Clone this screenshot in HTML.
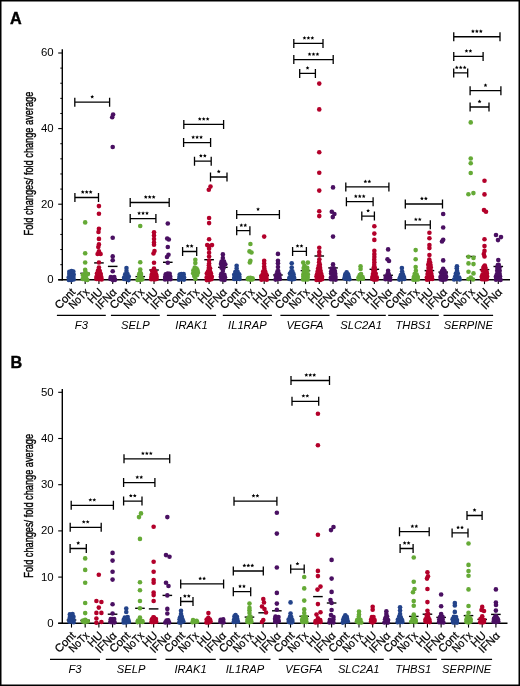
<!DOCTYPE html>
<html><head><meta charset="utf-8"><title>Figure</title>
<style>
html,body{margin:0;padding:0;background:#fff;}
body{width:520px;height:686px;overflow:hidden;}
svg{display:block;font-family:"Liberation Sans",sans-serif;will-change:transform;}
</style></head><body>
<svg width="520" height="686" viewBox="0 0 520 686">
<rect x="0" y="0" width="520" height="686" fill="#fff"/>

<g stroke="#000" fill="none">
<line x1="62.3" y1="49.2" x2="62.3" y2="280.5" stroke-width="1.4"/>
<line x1="58.2" y1="279.8" x2="510" y2="279.8" stroke-width="1.4"/>
<line x1="58.2" y1="279.8" x2="62.3" y2="279.8" stroke-width="1.1"/>
<line x1="58.2" y1="204.2" x2="62.3" y2="204.2" stroke-width="1.1"/>
<line x1="58.2" y1="128.6" x2="62.3" y2="128.6" stroke-width="1.1"/>
<line x1="58.2" y1="53" x2="62.3" y2="53" stroke-width="1.1"/>
<line x1="60.3" y1="264.68" x2="62.3" y2="264.68" stroke-width="1"/>
<line x1="60.3" y1="249.56" x2="62.3" y2="249.56" stroke-width="1"/>
<line x1="60.3" y1="234.44" x2="62.3" y2="234.44" stroke-width="1"/>
<line x1="60.3" y1="219.32" x2="62.3" y2="219.32" stroke-width="1"/>
<line x1="60.3" y1="189.08" x2="62.3" y2="189.08" stroke-width="1"/>
<line x1="60.3" y1="173.96" x2="62.3" y2="173.96" stroke-width="1"/>
<line x1="60.3" y1="158.84" x2="62.3" y2="158.84" stroke-width="1"/>
<line x1="60.3" y1="143.72" x2="62.3" y2="143.72" stroke-width="1"/>
<line x1="60.3" y1="113.48" x2="62.3" y2="113.48" stroke-width="1"/>
<line x1="60.3" y1="98.36" x2="62.3" y2="98.36" stroke-width="1"/>
<line x1="60.3" y1="83.24" x2="62.3" y2="83.24" stroke-width="1"/>
<line x1="60.3" y1="68.12" x2="62.3" y2="68.12" stroke-width="1"/>
<line x1="71.4" y1="279.8" x2="71.4" y2="284.1" stroke-width="1.1"/>
<line x1="85.17" y1="279.8" x2="85.17" y2="284.1" stroke-width="1.1"/>
<line x1="98.94" y1="279.8" x2="98.94" y2="284.1" stroke-width="1.1"/>
<line x1="112.71" y1="279.8" x2="112.71" y2="284.1" stroke-width="1.1"/>
<line x1="126.48" y1="279.8" x2="126.48" y2="284.1" stroke-width="1.1"/>
<line x1="140.25" y1="279.8" x2="140.25" y2="284.1" stroke-width="1.1"/>
<line x1="154.02" y1="279.8" x2="154.02" y2="284.1" stroke-width="1.1"/>
<line x1="167.79" y1="279.8" x2="167.79" y2="284.1" stroke-width="1.1"/>
<line x1="181.56" y1="279.8" x2="181.56" y2="284.1" stroke-width="1.1"/>
<line x1="195.33" y1="279.8" x2="195.33" y2="284.1" stroke-width="1.1"/>
<line x1="209.1" y1="279.8" x2="209.1" y2="284.1" stroke-width="1.1"/>
<line x1="222.87" y1="279.8" x2="222.87" y2="284.1" stroke-width="1.1"/>
<line x1="236.64" y1="279.8" x2="236.64" y2="284.1" stroke-width="1.1"/>
<line x1="250.41" y1="279.8" x2="250.41" y2="284.1" stroke-width="1.1"/>
<line x1="264.18" y1="279.8" x2="264.18" y2="284.1" stroke-width="1.1"/>
<line x1="277.95" y1="279.8" x2="277.95" y2="284.1" stroke-width="1.1"/>
<line x1="291.72" y1="279.8" x2="291.72" y2="284.1" stroke-width="1.1"/>
<line x1="305.49" y1="279.8" x2="305.49" y2="284.1" stroke-width="1.1"/>
<line x1="319.26" y1="279.8" x2="319.26" y2="284.1" stroke-width="1.1"/>
<line x1="333.03" y1="279.8" x2="333.03" y2="284.1" stroke-width="1.1"/>
<line x1="346.8" y1="279.8" x2="346.8" y2="284.1" stroke-width="1.1"/>
<line x1="360.57" y1="279.8" x2="360.57" y2="284.1" stroke-width="1.1"/>
<line x1="374.34" y1="279.8" x2="374.34" y2="284.1" stroke-width="1.1"/>
<line x1="388.11" y1="279.8" x2="388.11" y2="284.1" stroke-width="1.1"/>
<line x1="401.88" y1="279.8" x2="401.88" y2="284.1" stroke-width="1.1"/>
<line x1="415.65" y1="279.8" x2="415.65" y2="284.1" stroke-width="1.1"/>
<line x1="429.42" y1="279.8" x2="429.42" y2="284.1" stroke-width="1.1"/>
<line x1="443.19" y1="279.8" x2="443.19" y2="284.1" stroke-width="1.1"/>
<line x1="456.96" y1="279.8" x2="456.96" y2="284.1" stroke-width="1.1"/>
<line x1="470.73" y1="279.8" x2="470.73" y2="284.1" stroke-width="1.1"/>
<line x1="484.5" y1="279.8" x2="484.5" y2="284.1" stroke-width="1.1"/>
<line x1="498.27" y1="279.8" x2="498.27" y2="284.1" stroke-width="1.1"/>
<line x1="56.9" y1="315.4" x2="105.8" y2="315.4" stroke-width="1.1"/>
<line x1="110.9" y1="315.4" x2="159.8" y2="315.4" stroke-width="1.1"/>
<line x1="166.9" y1="315.4" x2="216.1" y2="315.4" stroke-width="1.1"/>
<line x1="222.8" y1="315.4" x2="271.9" y2="315.4" stroke-width="1.1"/>
<line x1="280.4" y1="315.4" x2="329.5" y2="315.4" stroke-width="1.1"/>
<line x1="336.6" y1="315.4" x2="385.8" y2="315.4" stroke-width="1.1"/>
<line x1="388.2" y1="315.4" x2="438.8" y2="315.4" stroke-width="1.1"/>
<line x1="443.5" y1="315.4" x2="493.1" y2="315.4" stroke-width="1.1"/>
</g>
<g font-size="11.4" text-anchor="end" fill="#000">
<text x="53.6" y="283.2">0</text>
<text x="53.6" y="207.6">20</text>
<text x="53.6" y="132">40</text>
<text x="53.6" y="56.4">60</text>
</g>
<text transform="translate(33.1 163.6) rotate(-90) scale(0.743 1)" font-size="12.4" text-anchor="middle" stroke="#000" stroke-width="0.4">Fold changes/ fold change average</text>
<text x="10" y="23.7" font-size="16.2" font-weight="bold" stroke="#000" stroke-width="0.4">A</text>
<g font-size="11.3" text-anchor="end" stroke="#000" stroke-width="0.22">
<text transform="translate(76.1 292.8) rotate(-45)">Cont</text>
<text transform="translate(89.87 292.8) rotate(-45)" textLength="23.5" lengthAdjust="spacingAndGlyphs">NoTx</text>
<text transform="translate(103.64 292.8) rotate(-45)">HU</text>
<text transform="translate(117.41 292.8) rotate(-45)">IFNα</text>
<text transform="translate(131.18 292.8) rotate(-45)">Cont</text>
<text transform="translate(144.95 292.8) rotate(-45)" textLength="23.5" lengthAdjust="spacingAndGlyphs">NoTx</text>
<text transform="translate(158.72 292.8) rotate(-45)">HU</text>
<text transform="translate(172.49 292.8) rotate(-45)">IFNα</text>
<text transform="translate(186.26 292.8) rotate(-45)">Cont</text>
<text transform="translate(200.03 292.8) rotate(-45)" textLength="23.5" lengthAdjust="spacingAndGlyphs">NoTx</text>
<text transform="translate(213.8 292.8) rotate(-45)">HU</text>
<text transform="translate(227.57 292.8) rotate(-45)">IFNα</text>
<text transform="translate(241.34 292.8) rotate(-45)">Cont</text>
<text transform="translate(255.11 292.8) rotate(-45)" textLength="23.5" lengthAdjust="spacingAndGlyphs">NoTx</text>
<text transform="translate(268.88 292.8) rotate(-45)">HU</text>
<text transform="translate(282.65 292.8) rotate(-45)">IFNα</text>
<text transform="translate(296.42 292.8) rotate(-45)">Cont</text>
<text transform="translate(310.19 292.8) rotate(-45)" textLength="23.5" lengthAdjust="spacingAndGlyphs">NoTx</text>
<text transform="translate(323.96 292.8) rotate(-45)">HU</text>
<text transform="translate(337.73 292.8) rotate(-45)">IFNα</text>
<text transform="translate(351.5 292.8) rotate(-45)">Cont</text>
<text transform="translate(365.27 292.8) rotate(-45)" textLength="23.5" lengthAdjust="spacingAndGlyphs">NoTx</text>
<text transform="translate(379.04 292.8) rotate(-45)">HU</text>
<text transform="translate(392.81 292.8) rotate(-45)">IFNα</text>
<text transform="translate(406.58 292.8) rotate(-45)">Cont</text>
<text transform="translate(420.35 292.8) rotate(-45)" textLength="23.5" lengthAdjust="spacingAndGlyphs">NoTx</text>
<text transform="translate(434.12 292.8) rotate(-45)">HU</text>
<text transform="translate(447.89 292.8) rotate(-45)">IFNα</text>
<text transform="translate(461.66 292.8) rotate(-45)">Cont</text>
<text transform="translate(475.43 292.8) rotate(-45)" textLength="23.5" lengthAdjust="spacingAndGlyphs">NoTx</text>
<text transform="translate(489.2 292.8) rotate(-45)">HU</text>
<text transform="translate(502.97 292.8) rotate(-45)">IFNα</text>
</g>
<g font-size="11.2" font-style="italic" text-anchor="middle">
<text x="81.35" y="329.2">F3</text>
<text x="135.35" y="329.2">SELP</text>
<text x="191.5" y="329.2">IRAK1</text>
<text x="247.35" y="329.2">IL1RAP</text>
<text x="304.95" y="329.2">VEGFA</text>
<text x="361.2" y="329.2">SLC2A1</text>
<text x="413.5" y="329.2">THBS1</text>
<text x="468.3" y="329.2">SERPINE</text>
</g>
<g stroke="#000" stroke-width="1.4">
<line x1="80.37" y1="273.3" x2="89.97" y2="273.3"/>
<line x1="94.14" y1="262.9" x2="103.74" y2="262.9"/>
<line x1="107.91" y1="266.4" x2="117.51" y2="266.4"/>
<line x1="135.45" y1="276.6" x2="145.05" y2="276.6"/>
<line x1="149.22" y1="270" x2="158.82" y2="270"/>
<line x1="162.99" y1="262.3" x2="172.59" y2="262.3"/>
<line x1="204.3" y1="259.7" x2="213.9" y2="259.7"/>
<line x1="218.07" y1="267.3" x2="227.67" y2="267.3"/>
<line x1="259.38" y1="275.3" x2="268.98" y2="275.3"/>
<line x1="273.15" y1="275" x2="282.75" y2="275"/>
<line x1="300.69" y1="270.6" x2="310.29" y2="270.6"/>
<line x1="314.46" y1="256" x2="324.06" y2="256"/>
<line x1="328.23" y1="267.9" x2="337.83" y2="267.9"/>
<line x1="369.54" y1="269.3" x2="379.14" y2="269.3"/>
<line x1="383.31" y1="275.3" x2="392.91" y2="275.3"/>
<line x1="424.62" y1="270.6" x2="434.22" y2="270.6"/>
<line x1="438.39" y1="272.1" x2="447.99" y2="272.1"/>
<line x1="465.93" y1="256.5" x2="475.53" y2="256.5"/>
<line x1="479.7" y1="269.6" x2="489.3" y2="269.6"/>
<line x1="493.47" y1="266.5" x2="503.07" y2="266.5"/>
</g>
<g fill="#23438a"><circle cx="68.87" cy="280.05" r="2.3"/><circle cx="71.31" cy="280.12" r="2.3"/><circle cx="73.66" cy="279.48" r="2.3"/><circle cx="68.71" cy="277.4" r="2.3"/><circle cx="71.23" cy="276.68" r="2.3"/><circle cx="73.4" cy="276.96" r="2.3"/><circle cx="69.29" cy="273.97" r="2.3"/><circle cx="71.5" cy="273.58" r="2.3"/><circle cx="73.66" cy="274.44" r="2.3"/><circle cx="69.32" cy="271.79" r="2.3"/><circle cx="71.52" cy="270.98" r="2.3"/><circle cx="73.32" cy="271.61" r="2.3"/></g>
<g fill="#65aa36"><circle cx="85.17" cy="222.4" r="2.3"/><circle cx="85.17" cy="253.2" r="2.3"/><circle cx="85.17" cy="262.5" r="2.3"/><circle cx="85.17" cy="269.8" r="2.3"/><circle cx="82.68" cy="278.94" r="2.3"/><circle cx="85.43" cy="279.47" r="2.3"/><circle cx="87.37" cy="279.95" r="2.3"/><circle cx="84.72" cy="277.51" r="2.3"/><circle cx="85.84" cy="277.36" r="2.3"/><circle cx="82.78" cy="275.02" r="2.3"/><circle cx="85.44" cy="274.02" r="2.3"/><circle cx="87.77" cy="274.16" r="2.3"/><circle cx="85.45" cy="271.95" r="2.3"/></g>
<g fill="#b3002a"><circle cx="98.94" cy="206.1" r="2.3"/><circle cx="98.94" cy="213.7" r="2.3"/><circle cx="98.94" cy="228.7" r="2.3"/><circle cx="98.5" cy="232" r="2.3"/><circle cx="98.94" cy="238.9" r="2.3"/><circle cx="98.94" cy="244.4" r="2.3"/><circle cx="98.3" cy="247" r="2.3"/><circle cx="98.94" cy="251.3" r="2.3"/><circle cx="100.6" cy="254" r="2.3"/><circle cx="97.6" cy="254" r="2.3"/><circle cx="98.94" cy="262.5" r="2.3"/><circle cx="98.94" cy="267.5" r="2.3"/><circle cx="96.43" cy="279.06" r="2.3"/><circle cx="98.95" cy="279.16" r="2.3"/><circle cx="101.64" cy="279.4" r="2.3"/><circle cx="96.4" cy="276.99" r="2.3"/><circle cx="99.07" cy="277.01" r="2.3"/><circle cx="101.29" cy="277.09" r="2.3"/><circle cx="96.96" cy="273.6" r="2.3"/><circle cx="99.19" cy="274.56" r="2.3"/><circle cx="100.76" cy="274.08" r="2.3"/><circle cx="97.99" cy="270.65" r="2.3"/><circle cx="99.81" cy="271.09" r="2.3"/></g>
<g fill="#4a1062"><circle cx="113.1" cy="114.6" r="2.3"/><circle cx="112.2" cy="117.3" r="2.3"/><circle cx="112.71" cy="147" r="2.3"/><circle cx="112.71" cy="237.7" r="2.3"/><circle cx="112.71" cy="256.4" r="2.3"/><circle cx="112.71" cy="260.2" r="2.3"/><circle cx="112.71" cy="271.2" r="2.3"/><circle cx="110.46" cy="278.98" r="2.3"/><circle cx="112.96" cy="280.09" r="2.3"/><circle cx="115.1" cy="279.86" r="2.3"/><circle cx="110.8" cy="277.08" r="2.3"/><circle cx="112.57" cy="277.82" r="2.3"/><circle cx="114.3" cy="276.95" r="2.3"/></g>
<g fill="#23438a"><circle cx="126.48" cy="268" r="2.3"/><circle cx="126.48" cy="271" r="2.3"/><circle cx="124.21" cy="278.95" r="2.3"/><circle cx="126.63" cy="279.3" r="2.3"/><circle cx="128.56" cy="280.08" r="2.3"/><circle cx="124.13" cy="277.6" r="2.3"/><circle cx="126.35" cy="276.49" r="2.3"/><circle cx="128.76" cy="276.44" r="2.3"/><circle cx="125.17" cy="274.39" r="2.3"/><circle cx="127.5" cy="274.09" r="2.3"/></g>
<g fill="#65aa36"><circle cx="140.25" cy="226" r="2.3"/><circle cx="140.25" cy="262.3" r="2.3"/><circle cx="140.25" cy="269.5" r="2.3"/><circle cx="137.58" cy="279.94" r="2.3"/><circle cx="140.12" cy="280.05" r="2.3"/><circle cx="142.32" cy="279.35" r="2.3"/><circle cx="139.12" cy="277.02" r="2.3"/><circle cx="141.25" cy="277.11" r="2.3"/><circle cx="139.19" cy="274.14" r="2.3"/><circle cx="141.04" cy="274.01" r="2.3"/><circle cx="140.21" cy="272.18" r="2.3"/></g>
<g fill="#b3002a"><circle cx="154.02" cy="232.2" r="2.3"/><circle cx="154.02" cy="235.5" r="2.3"/><circle cx="154.02" cy="239" r="2.3"/><circle cx="154.02" cy="242.5" r="2.3"/><circle cx="154.02" cy="244.7" r="2.3"/><circle cx="154.5" cy="251" r="2.3"/><circle cx="153.5" cy="253.5" r="2.3"/><circle cx="154.02" cy="262.7" r="2.3"/><circle cx="154.02" cy="268.5" r="2.3"/><circle cx="151.24" cy="279.26" r="2.3"/><circle cx="154.35" cy="279.53" r="2.3"/><circle cx="156.59" cy="278.91" r="2.3"/><circle cx="151.36" cy="277.1" r="2.3"/><circle cx="153.68" cy="277.14" r="2.3"/><circle cx="156.53" cy="276.47" r="2.3"/><circle cx="151.76" cy="274.46" r="2.3"/><circle cx="154.15" cy="274.32" r="2.3"/><circle cx="156.23" cy="274.79" r="2.3"/><circle cx="152.09" cy="270.97" r="2.3"/><circle cx="155.5" cy="272.06" r="2.3"/></g>
<g fill="#4a1062"><circle cx="167.79" cy="223.5" r="2.3"/><circle cx="167.2" cy="238.5" r="2.3"/><circle cx="168.8" cy="239.5" r="2.3"/><circle cx="167.79" cy="247" r="2.3"/><circle cx="168.5" cy="254.8" r="2.3"/><circle cx="167" cy="257" r="2.3"/><circle cx="167.79" cy="262.7" r="2.3"/><circle cx="165.02" cy="279.45" r="2.3"/><circle cx="167.85" cy="279.28" r="2.3"/><circle cx="170.49" cy="279.28" r="2.3"/><circle cx="165.1" cy="277.11" r="2.3"/><circle cx="167.65" cy="276.85" r="2.3"/><circle cx="170.2" cy="276.43" r="2.3"/><circle cx="165.74" cy="274.28" r="2.3"/><circle cx="167.66" cy="273.67" r="2.3"/><circle cx="169.68" cy="273.69" r="2.3"/></g>
<g fill="#23438a"><circle cx="178.99" cy="279.72" r="2.3"/><circle cx="181.7" cy="279.32" r="2.3"/><circle cx="184.03" cy="279.6" r="2.3"/><circle cx="179.44" cy="276.93" r="2.3"/><circle cx="181.81" cy="276.6" r="2.3"/><circle cx="184.02" cy="277.18" r="2.3"/><circle cx="179.73" cy="274.44" r="2.3"/><circle cx="181.37" cy="274.05" r="2.3"/><circle cx="183.64" cy="274.13" r="2.3"/></g>
<g fill="#65aa36"><circle cx="195.33" cy="259.7" r="2.3"/><circle cx="195.33" cy="263" r="2.3"/><circle cx="195.33" cy="279" r="2.3"/><circle cx="194.19" cy="275.91" r="2.3"/><circle cx="196.9" cy="275.23" r="2.3"/><circle cx="193.2" cy="273.17" r="2.3"/><circle cx="195.54" cy="272.81" r="2.3"/><circle cx="197.94" cy="272.75" r="2.3"/><circle cx="193.44" cy="270.23" r="2.3"/><circle cx="195.22" cy="270.4" r="2.3"/><circle cx="197.49" cy="270.39" r="2.3"/><circle cx="194.77" cy="267.59" r="2.3"/><circle cx="196.53" cy="268.53" r="2.3"/></g>
<g fill="#b3002a"><circle cx="210.5" cy="186.6" r="2.3"/><circle cx="208.8" cy="189.8" r="2.3"/><circle cx="209.1" cy="218" r="2.3"/><circle cx="209.1" cy="223.1" r="2.3"/><circle cx="209.1" cy="239.2" r="2.3"/><circle cx="207.2" cy="245.1" r="2.3"/><circle cx="209.1" cy="246" r="2.3"/><circle cx="212" cy="245.1" r="2.3"/><circle cx="209.1" cy="248.8" r="2.3"/><circle cx="209.1" cy="252.8" r="2.3"/><circle cx="209.1" cy="256.5" r="2.3"/><circle cx="209.1" cy="260.5" r="2.3"/><circle cx="209.1" cy="263.5" r="2.3"/><circle cx="206.77" cy="280.08" r="2.3"/><circle cx="209.05" cy="280.04" r="2.3"/><circle cx="211.4" cy="279.17" r="2.3"/><circle cx="206.67" cy="277.4" r="2.3"/><circle cx="209.21" cy="277.02" r="2.3"/><circle cx="211.85" cy="276.81" r="2.3"/><circle cx="206.81" cy="273.48" r="2.3"/><circle cx="209.16" cy="273.74" r="2.3"/><circle cx="210.98" cy="273.45" r="2.3"/><circle cx="208.03" cy="271.23" r="2.3"/><circle cx="210.15" cy="271.48" r="2.3"/><circle cx="208.78" cy="268.09" r="2.3"/><circle cx="210.04" cy="268.29" r="2.3"/><circle cx="208.9" cy="265.34" r="2.3"/></g>
<g fill="#4a1062"><circle cx="222.87" cy="254.4" r="2.3"/><circle cx="222.87" cy="258" r="2.3"/><circle cx="222.87" cy="271" r="2.3"/><circle cx="221.38" cy="279.53" r="2.3"/><circle cx="224.53" cy="280.03" r="2.3"/><circle cx="220.85" cy="276.81" r="2.3"/><circle cx="222.7" cy="277.43" r="2.3"/><circle cx="224.99" cy="277.34" r="2.3"/><circle cx="221.17" cy="274.14" r="2.3"/><circle cx="224.45" cy="274.88" r="2.3"/><circle cx="221.54" cy="267.85" r="2.3"/><circle cx="223.67" cy="267.87" r="2.3"/><circle cx="221" cy="263.91" r="2.3"/><circle cx="222.96" cy="264.94" r="2.3"/><circle cx="225.29" cy="264.23" r="2.3"/><circle cx="221.61" cy="261.53" r="2.3"/><circle cx="224.02" cy="261.47" r="2.3"/></g>
<g fill="#23438a"><circle cx="236.64" cy="265.7" r="2.3"/><circle cx="236.64" cy="268.5" r="2.3"/><circle cx="234.23" cy="278.9" r="2.3"/><circle cx="236.33" cy="279.05" r="2.3"/><circle cx="239.5" cy="278.98" r="2.3"/><circle cx="234.37" cy="277.43" r="2.3"/><circle cx="236.35" cy="277" r="2.3"/><circle cx="239.37" cy="276.78" r="2.3"/><circle cx="234.19" cy="274.68" r="2.3"/><circle cx="236.7" cy="274.33" r="2.3"/><circle cx="239.21" cy="274.29" r="2.3"/><circle cx="235.28" cy="272.07" r="2.3"/><circle cx="237.59" cy="271.86" r="2.3"/></g>
<g fill="#65aa36"><circle cx="250.41" cy="244" r="2.3"/><circle cx="249.5" cy="251.4" r="2.3"/><circle cx="251.5" cy="252.5" r="2.3"/><circle cx="250.41" cy="260.7" r="2.3"/><circle cx="249.8" cy="262.5" r="2.3"/><circle cx="247.77" cy="279.11" r="2.3"/><circle cx="250.32" cy="279.63" r="2.3"/><circle cx="252.56" cy="279.36" r="2.3"/><circle cx="248.52" cy="278.15" r="2.3"/><circle cx="250.36" cy="277.85" r="2.3"/><circle cx="252.51" cy="278.24" r="2.3"/></g>
<g fill="#b3002a"><circle cx="264.18" cy="236.6" r="2.3"/><circle cx="264.18" cy="260.7" r="2.3"/><circle cx="264.18" cy="263.5" r="2.3"/><circle cx="264.18" cy="266.5" r="2.3"/><circle cx="261.52" cy="279.73" r="2.3"/><circle cx="264.15" cy="279.19" r="2.3"/><circle cx="266.75" cy="279.73" r="2.3"/><circle cx="261.28" cy="276.91" r="2.3"/><circle cx="264.13" cy="277.46" r="2.3"/><circle cx="266.47" cy="276.85" r="2.3"/><circle cx="262.61" cy="274.35" r="2.3"/><circle cx="264.01" cy="273.96" r="2.3"/><circle cx="266.29" cy="274.38" r="2.3"/><circle cx="263.19" cy="271.46" r="2.3"/><circle cx="265.08" cy="271.2" r="2.3"/><circle cx="264.32" cy="268.55" r="2.3"/></g>
<g fill="#4a1062"><circle cx="277.95" cy="253.9" r="2.3"/><circle cx="277.95" cy="260.7" r="2.3"/><circle cx="277.95" cy="263.3" r="2.3"/><circle cx="277.95" cy="267" r="2.3"/><circle cx="275.57" cy="279.61" r="2.3"/><circle cx="277.6" cy="279.07" r="2.3"/><circle cx="279.86" cy="278.95" r="2.3"/><circle cx="276.06" cy="276.52" r="2.3"/><circle cx="279.28" cy="276.61" r="2.3"/><circle cx="276.52" cy="274.41" r="2.3"/><circle cx="279.32" cy="274.41" r="2.3"/><circle cx="277.47" cy="271.4" r="2.3"/><circle cx="278.23" cy="271.09" r="2.3"/></g>
<g fill="#23438a"><circle cx="291.72" cy="263.2" r="2.3"/><circle cx="291.72" cy="267.5" r="2.3"/><circle cx="289.33" cy="278.94" r="2.3"/><circle cx="291.91" cy="279.51" r="2.3"/><circle cx="294.17" cy="279.03" r="2.3"/><circle cx="289.54" cy="277.52" r="2.3"/><circle cx="291.41" cy="276.79" r="2.3"/><circle cx="294.03" cy="277.39" r="2.3"/><circle cx="289.94" cy="273.62" r="2.3"/><circle cx="293.5" cy="274.14" r="2.3"/><circle cx="291.3" cy="271.37" r="2.3"/><circle cx="292.41" cy="271.38" r="2.3"/></g>
<g fill="#65aa36"><circle cx="303.2" cy="262.6" r="2.3"/><circle cx="307.9" cy="262.6" r="2.3"/><circle cx="304.5" cy="265.5" r="2.3"/><circle cx="303.04" cy="279.4" r="2.3"/><circle cx="305.2" cy="279.5" r="2.3"/><circle cx="307.51" cy="279.4" r="2.3"/><circle cx="303.31" cy="276.59" r="2.3"/><circle cx="305.62" cy="277.31" r="2.3"/><circle cx="307.72" cy="277.02" r="2.3"/><circle cx="303.38" cy="274.17" r="2.3"/><circle cx="305.77" cy="273.58" r="2.3"/><circle cx="307.87" cy="274.3" r="2.3"/><circle cx="303.93" cy="271.02" r="2.3"/><circle cx="305.45" cy="271.26" r="2.3"/><circle cx="307.56" cy="270.72" r="2.3"/><circle cx="303.68" cy="268.1" r="2.3"/><circle cx="307.22" cy="267.68" r="2.3"/></g>
<g fill="#b3002a"><circle cx="319.26" cy="83.6" r="2.3"/><circle cx="319.26" cy="109.4" r="2.3"/><circle cx="319.26" cy="152.3" r="2.3"/><circle cx="319.26" cy="172.7" r="2.3"/><circle cx="319.26" cy="190.6" r="2.3"/><circle cx="319.26" cy="211.2" r="2.3"/><circle cx="319.26" cy="216.1" r="2.3"/><circle cx="319.26" cy="247.7" r="2.3"/><circle cx="319.26" cy="252" r="2.3"/><circle cx="319.26" cy="255" r="2.3"/><circle cx="316.54" cy="280.04" r="2.3"/><circle cx="318.22" cy="279.75" r="2.3"/><circle cx="320.1" cy="279.92" r="2.3"/><circle cx="322.05" cy="279.22" r="2.3"/><circle cx="316.46" cy="276.43" r="2.3"/><circle cx="319.25" cy="276.86" r="2.3"/><circle cx="322.09" cy="276.83" r="2.3"/><circle cx="317.04" cy="274.33" r="2.3"/><circle cx="319.01" cy="274.59" r="2.3"/><circle cx="321.37" cy="274.12" r="2.3"/><circle cx="317.64" cy="271.4" r="2.3"/><circle cx="320.63" cy="271.07" r="2.3"/><circle cx="318.15" cy="268.26" r="2.3"/><circle cx="320.11" cy="267.88" r="2.3"/><circle cx="318.82" cy="265.55" r="2.3"/><circle cx="319.88" cy="264.68" r="2.3"/><circle cx="319.1" cy="262.17" r="2.3"/><circle cx="319.37" cy="259.37" r="2.3"/></g>
<g fill="#4a1062"><circle cx="331.8" cy="211.8" r="2.3"/><circle cx="334.4" cy="214" r="2.3"/><circle cx="332.8" cy="217.1" r="2.3"/><circle cx="333.03" cy="187.4" r="2.3"/><circle cx="333.03" cy="236.6" r="2.3"/><circle cx="333.03" cy="264.4" r="2.3"/><circle cx="330.93" cy="279.19" r="2.3"/><circle cx="332.81" cy="279.21" r="2.3"/><circle cx="335.6" cy="279.75" r="2.3"/><circle cx="330.93" cy="277.48" r="2.3"/><circle cx="332.86" cy="277.44" r="2.3"/><circle cx="335.51" cy="276.91" r="2.3"/><circle cx="331.09" cy="273.5" r="2.3"/><circle cx="332.74" cy="274.4" r="2.3"/><circle cx="335.28" cy="273.83" r="2.3"/><circle cx="331.24" cy="271.21" r="2.3"/><circle cx="332.68" cy="270.8" r="2.3"/><circle cx="334.92" cy="270.98" r="2.3"/><circle cx="331.73" cy="268.6" r="2.3"/><circle cx="333.81" cy="268.37" r="2.3"/></g>
<g fill="#23438a"><circle cx="344.48" cy="278.34" r="2.3"/><circle cx="346.64" cy="279" r="2.3"/><circle cx="349.42" cy="279.26" r="2.3"/><circle cx="344.99" cy="276.02" r="2.3"/><circle cx="347.11" cy="276.35" r="2.3"/><circle cx="348.71" cy="276.81" r="2.3"/><circle cx="345.31" cy="274.21" r="2.3"/><circle cx="348.04" cy="274.37" r="2.3"/><circle cx="346.66" cy="272.2" r="2.3"/></g>
<g fill="#65aa36"><circle cx="360.57" cy="266.2" r="2.3"/><circle cx="360.57" cy="269" r="2.3"/><circle cx="358.54" cy="279.21" r="2.3"/><circle cx="360.6" cy="278.54" r="2.3"/><circle cx="362.92" cy="278.82" r="2.3"/><circle cx="358.62" cy="277.21" r="2.3"/><circle cx="360.62" cy="276.62" r="2.3"/><circle cx="362.57" cy="277.16" r="2.3"/><circle cx="359.75" cy="274.97" r="2.3"/><circle cx="361.06" cy="274.05" r="2.3"/></g>
<g fill="#b3002a"><circle cx="374.34" cy="226.2" r="2.3"/><circle cx="374.34" cy="233.6" r="2.3"/><circle cx="374.34" cy="239.9" r="2.3"/><circle cx="374.34" cy="250.7" r="2.3"/><circle cx="374.34" cy="254" r="2.3"/><circle cx="374.34" cy="256.9" r="2.3"/><circle cx="372.29" cy="279.07" r="2.3"/><circle cx="374.22" cy="279.76" r="2.3"/><circle cx="376.62" cy="279.57" r="2.3"/><circle cx="372.34" cy="276.95" r="2.3"/><circle cx="374.21" cy="276.61" r="2.3"/><circle cx="376.74" cy="277.26" r="2.3"/><circle cx="372.92" cy="274.05" r="2.3"/><circle cx="375.77" cy="273.83" r="2.3"/><circle cx="373.33" cy="270.86" r="2.3"/><circle cx="374.93" cy="270.45" r="2.3"/><circle cx="373.74" cy="267.7" r="2.3"/><circle cx="374.75" cy="267.82" r="2.3"/><circle cx="374.24" cy="264.92" r="2.3"/><circle cx="374.36" cy="262.22" r="2.3"/><circle cx="374.25" cy="259.78" r="2.3"/></g>
<g fill="#4a1062"><circle cx="388.11" cy="249.4" r="2.3"/><circle cx="387.5" cy="259.2" r="2.3"/><circle cx="389" cy="261" r="2.3"/><circle cx="388.11" cy="270.8" r="2.3"/><circle cx="385.49" cy="279.22" r="2.3"/><circle cx="387.83" cy="279.04" r="2.3"/><circle cx="390.26" cy="279.77" r="2.3"/><circle cx="385.79" cy="276.63" r="2.3"/><circle cx="388.05" cy="277.29" r="2.3"/><circle cx="389.99" cy="277.3" r="2.3"/><circle cx="387.57" cy="274.08" r="2.3"/><circle cx="388.78" cy="274.13" r="2.3"/></g>
<g fill="#23438a"><circle cx="401.88" cy="268" r="2.3"/><circle cx="399.3" cy="279.58" r="2.3"/><circle cx="401.67" cy="279.2" r="2.3"/><circle cx="404.28" cy="278.94" r="2.3"/><circle cx="399.99" cy="277.47" r="2.3"/><circle cx="402.19" cy="276.86" r="2.3"/><circle cx="403.94" cy="277.1" r="2.3"/><circle cx="400.87" cy="275.07" r="2.3"/><circle cx="402.85" cy="274.26" r="2.3"/><circle cx="402.1" cy="271.49" r="2.3"/></g>
<g fill="#65aa36"><circle cx="415.65" cy="250.1" r="2.3"/><circle cx="415.65" cy="259.3" r="2.3"/><circle cx="415.65" cy="267" r="2.3"/><circle cx="413.37" cy="279.77" r="2.3"/><circle cx="415.3" cy="279.82" r="2.3"/><circle cx="417.89" cy="279.49" r="2.3"/><circle cx="413.82" cy="276.95" r="2.3"/><circle cx="415.44" cy="277.04" r="2.3"/><circle cx="417.82" cy="277" r="2.3"/><circle cx="414.65" cy="273.93" r="2.3"/><circle cx="416.7" cy="274.55" r="2.3"/><circle cx="415.89" cy="270.71" r="2.3"/></g>
<g fill="#b3002a"><circle cx="429.42" cy="232.8" r="2.3"/><circle cx="429.42" cy="238.2" r="2.3"/><circle cx="429.42" cy="245" r="2.3"/><circle cx="429.42" cy="248.1" r="2.3"/><circle cx="429.42" cy="255" r="2.3"/><circle cx="427.02" cy="279.65" r="2.3"/><circle cx="429.11" cy="279.33" r="2.3"/><circle cx="432.21" cy="278.99" r="2.3"/><circle cx="426.85" cy="277.52" r="2.3"/><circle cx="429.3" cy="277.44" r="2.3"/><circle cx="431.88" cy="276.56" r="2.3"/><circle cx="427.57" cy="274.12" r="2.3"/><circle cx="429.72" cy="274.26" r="2.3"/><circle cx="431.35" cy="273.81" r="2.3"/><circle cx="428.03" cy="271.52" r="2.3"/><circle cx="430.77" cy="270.92" r="2.3"/><circle cx="428.5" cy="267.98" r="2.3"/><circle cx="430.79" cy="267.45" r="2.3"/><circle cx="428.27" cy="264.64" r="2.3"/><circle cx="430.51" cy="265" r="2.3"/><circle cx="428.96" cy="262.04" r="2.3"/><circle cx="430.07" cy="262.18" r="2.3"/><circle cx="429.3" cy="259.47" r="2.3"/></g>
<g fill="#4a1062"><circle cx="443.19" cy="214" r="2.3"/><circle cx="443.19" cy="227.5" r="2.3"/><circle cx="443.19" cy="239.7" r="2.3"/><circle cx="442" cy="241.5" r="2.3"/><circle cx="443.19" cy="260.4" r="2.3"/><circle cx="443.19" cy="268.8" r="2.3"/><circle cx="440.77" cy="279.38" r="2.3"/><circle cx="442.97" cy="279.98" r="2.3"/><circle cx="445.64" cy="279.34" r="2.3"/><circle cx="440.5" cy="277.04" r="2.3"/><circle cx="443.26" cy="276.67" r="2.3"/><circle cx="446.14" cy="276.65" r="2.3"/><circle cx="441.29" cy="273.57" r="2.3"/><circle cx="443.16" cy="273.63" r="2.3"/><circle cx="445.49" cy="273.6" r="2.3"/><circle cx="442.02" cy="271.1" r="2.3"/><circle cx="444.62" cy="271.03" r="2.3"/></g>
<g fill="#23438a"><circle cx="456.96" cy="266.2" r="2.3"/><circle cx="454.13" cy="279.49" r="2.3"/><circle cx="456.65" cy="278.93" r="2.3"/><circle cx="459.6" cy="279.39" r="2.3"/><circle cx="455.25" cy="276.46" r="2.3"/><circle cx="456.89" cy="276.88" r="2.3"/><circle cx="459.14" cy="277.56" r="2.3"/><circle cx="455.91" cy="273.51" r="2.3"/><circle cx="457.83" cy="273.6" r="2.3"/><circle cx="457.03" cy="270.88" r="2.3"/><circle cx="456.73" cy="268.14" r="2.3"/></g>
<g fill="#65aa36"><circle cx="470.73" cy="122.4" r="2.3"/><circle cx="470.73" cy="158.5" r="2.3"/><circle cx="470.73" cy="163.2" r="2.3"/><circle cx="470.73" cy="173" r="2.3"/><circle cx="468.4" cy="194.3" r="2.3"/><circle cx="473.4" cy="193.1" r="2.3"/><circle cx="468.5" cy="256.8" r="2.3"/><circle cx="473.5" cy="257.9" r="2.3"/><circle cx="468.5" cy="263.4" r="2.3"/><circle cx="473.5" cy="264.1" r="2.3"/><circle cx="468.5" cy="271.7" r="2.3"/><circle cx="473.5" cy="273.4" r="2.3"/><circle cx="470.8" cy="277.5" r="2.3"/><circle cx="468.5" cy="279" r="2.3"/><circle cx="473" cy="279.5" r="2.3"/></g>
<g fill="#b3002a"><circle cx="484.5" cy="180.7" r="2.3"/><circle cx="484.5" cy="194.4" r="2.3"/><circle cx="484" cy="210.1" r="2.3"/><circle cx="486" cy="211.7" r="2.3"/><circle cx="484.5" cy="239.2" r="2.3"/><circle cx="484.5" cy="246.1" r="2.3"/><circle cx="484.5" cy="250.9" r="2.3"/><circle cx="483.8" cy="254" r="2.3"/><circle cx="484.5" cy="256.5" r="2.3"/><circle cx="482.06" cy="279.23" r="2.3"/><circle cx="484.7" cy="279.46" r="2.3"/><circle cx="486.8" cy="279.26" r="2.3"/><circle cx="481.72" cy="276.72" r="2.3"/><circle cx="484.72" cy="277.15" r="2.3"/><circle cx="487.21" cy="276.51" r="2.3"/><circle cx="482.53" cy="274.56" r="2.3"/><circle cx="484.56" cy="273.4" r="2.3"/><circle cx="486.93" cy="273.51" r="2.3"/><circle cx="482.67" cy="270.44" r="2.3"/><circle cx="486.41" cy="271.19" r="2.3"/><circle cx="483.43" cy="267.64" r="2.3"/><circle cx="485.52" cy="267.97" r="2.3"/><circle cx="484.11" cy="266.5" r="2.3"/><circle cx="484.79" cy="265.44" r="2.3"/></g>
<g fill="#4a1062"><circle cx="496" cy="235" r="2.3"/><circle cx="501" cy="237.1" r="2.3"/><circle cx="498" cy="240.1" r="2.3"/><circle cx="498.27" cy="260" r="2.3"/><circle cx="496.03" cy="279.63" r="2.3"/><circle cx="498.58" cy="279.01" r="2.3"/><circle cx="500.51" cy="279.92" r="2.3"/><circle cx="495.9" cy="276.87" r="2.3"/><circle cx="498.15" cy="277.22" r="2.3"/><circle cx="500.07" cy="276.61" r="2.3"/><circle cx="496.84" cy="274.28" r="2.3"/><circle cx="499.64" cy="274.06" r="2.3"/><circle cx="497.22" cy="270.84" r="2.3"/><circle cx="499.68" cy="270.68" r="2.3"/><circle cx="497.37" cy="267.98" r="2.3"/><circle cx="499.53" cy="267.6" r="2.3"/><circle cx="497.82" cy="265.13" r="2.3"/><circle cx="498.72" cy="264.86" r="2.3"/></g>
<g stroke="#000" stroke-width="1.3" fill="none">
<path d="M74.8 97.7V106.7M74.8 102.2H109.6M109.6 97.7V106.7"/>
<path d="M74.9 193V202M74.9 197.5H98.5M98.5 193V202"/>
<path d="M130.2 198V207M130.2 202.5H169.2M169.2 198V207"/>
<path d="M130.2 214.1V223.1M130.2 218.6H155.9M155.9 214.1V223.1"/>
<path d="M183.8 119.9V128.9M183.8 124.4H223.6M223.6 119.9V128.9"/>
<path d="M183.6 138.1V147.1M183.6 142.6H210.6M210.6 138.1V147.1"/>
<path d="M194.5 156.7V165.7M194.5 161.2H211.2M211.2 156.7V165.7"/>
<path d="M210.5 172.5V181.5M210.5 177H227M227 172.5V181.5"/>
<path d="M182.6 247V256M182.6 251.5H196.7M196.7 247V256"/>
<path d="M236.7 210.1V219.1M236.7 214.6H279.4M279.4 210.1V219.1"/>
<path d="M236.7 226.2V235.2M236.7 230.7H249.9M249.9 226.2V235.2"/>
<path d="M293.8 38.9V47.9M293.8 43.4H323M323 38.9V47.9"/>
<path d="M293.8 55.1V64.1M293.8 59.6H333.2M333.2 55.1V64.1"/>
<path d="M299.7 68.9V77.9M299.7 73.4H315.4M315.4 68.9V77.9"/>
<path d="M292.6 246.9V255.9M292.6 251.4H306.4M306.4 246.9V255.9"/>
<path d="M345.8 182.4V191.4M345.8 186.9H388.9M388.9 182.4V191.4"/>
<path d="M346.4 197.2V206.2M346.4 201.7H373.1M373.1 197.2V206.2"/>
<path d="M361.8 211.6V220.6M361.8 216.1H374.4M374.4 211.6V220.6"/>
<path d="M405.3 199.5V208.5M405.3 204H442.5M442.5 199.5V208.5"/>
<path d="M405.3 220.3V229.3M405.3 224.8H430.3M430.3 220.3V229.3"/>
<path d="M453.75 32.25V41.25M453.75 36.75H500M500 32.25V41.25"/>
<path d="M453.75 51.9V60.9M453.75 56.4H483.1M483.1 51.9V60.9"/>
<path d="M453.7 68.4V77.4M453.7 72.9H467.7M467.7 68.4V77.4"/>
<path d="M470.1 86.2V95.2M470.1 90.7H500.9M500.9 86.2V95.2"/>
<path d="M470.1 102.5V111.5M470.1 107H489M489 102.5V111.5"/>
</g>
<g fill="#000">
<polygon points="92.2,94.8 92.76,96.03 94.1,96.18 93.1,97.09 93.38,98.42 92.2,97.75 91.02,98.42 91.3,97.09 90.3,96.18 91.64,96.03"/>
<polygon points="82.75,190.1 83.31,191.33 84.65,191.48 83.65,192.39 83.93,193.72 82.75,193.05 81.57,193.72 81.85,192.39 80.85,191.48 82.19,191.33"/>
<polygon points="86.7,190.1 87.26,191.33 88.6,191.48 87.6,192.39 87.88,193.72 86.7,193.05 85.52,193.72 85.8,192.39 84.8,191.48 86.14,191.33"/>
<polygon points="90.65,190.1 91.21,191.33 92.55,191.48 91.55,192.39 91.83,193.72 90.65,193.05 89.47,193.72 89.75,192.39 88.75,191.48 90.09,191.33"/>
<polygon points="145.75,195.1 146.31,196.33 147.65,196.48 146.65,197.39 146.93,198.72 145.75,198.05 144.57,198.72 144.85,197.39 143.85,196.48 145.19,196.33"/>
<polygon points="149.7,195.1 150.26,196.33 151.6,196.48 150.6,197.39 150.88,198.72 149.7,198.05 148.52,198.72 148.8,197.39 147.8,196.48 149.14,196.33"/>
<polygon points="153.65,195.1 154.21,196.33 155.55,196.48 154.55,197.39 154.83,198.72 153.65,198.05 152.47,198.72 152.75,197.39 151.75,196.48 153.09,196.33"/>
<polygon points="139.1,211.2 139.66,212.43 141,212.58 140,213.49 140.28,214.82 139.1,214.15 137.92,214.82 138.2,213.49 137.2,212.58 138.54,212.43"/>
<polygon points="143.05,211.2 143.61,212.43 144.95,212.58 143.95,213.49 144.23,214.82 143.05,214.15 141.87,214.82 142.15,213.49 141.15,212.58 142.49,212.43"/>
<polygon points="147,211.2 147.56,212.43 148.9,212.58 147.9,213.49 148.18,214.82 147,214.15 145.82,214.82 146.1,213.49 145.1,212.58 146.44,212.43"/>
<polygon points="199.75,117 200.31,118.23 201.65,118.38 200.65,119.29 200.93,120.62 199.75,119.95 198.57,120.62 198.85,119.29 197.85,118.38 199.19,118.23"/>
<polygon points="203.7,117 204.26,118.23 205.6,118.38 204.6,119.29 204.88,120.62 203.7,119.95 202.52,120.62 202.8,119.29 201.8,118.38 203.14,118.23"/>
<polygon points="207.65,117 208.21,118.23 209.55,118.38 208.55,119.29 208.83,120.62 207.65,119.95 206.47,120.62 206.75,119.29 205.75,118.38 207.09,118.23"/>
<polygon points="193.15,135.2 193.71,136.43 195.05,136.58 194.05,137.49 194.33,138.82 193.15,138.15 191.97,138.82 192.25,137.49 191.25,136.58 192.59,136.43"/>
<polygon points="197.1,135.2 197.66,136.43 199,136.58 198,137.49 198.28,138.82 197.1,138.15 195.92,138.82 196.2,137.49 195.2,136.58 196.54,136.43"/>
<polygon points="201.05,135.2 201.61,136.43 202.95,136.58 201.95,137.49 202.23,138.82 201.05,138.15 199.87,138.82 200.15,137.49 199.15,136.58 200.49,136.43"/>
<polygon points="200.88,153.8 201.43,155.03 202.78,155.18 201.78,156.09 202.05,157.42 200.88,156.75 199.7,157.42 199.97,156.09 198.97,155.18 200.32,155.03"/>
<polygon points="204.82,153.8 205.38,155.03 206.73,155.18 205.73,156.09 206,157.42 204.82,156.75 203.65,157.42 203.92,156.09 202.92,155.18 204.27,155.03"/>
<polygon points="218.75,169.6 219.31,170.83 220.65,170.98 219.65,171.89 219.93,173.22 218.75,172.55 217.57,173.22 217.85,171.89 216.85,170.98 218.19,170.83"/>
<polygon points="187.67,244.1 188.23,245.33 189.58,245.48 188.58,246.39 188.85,247.72 187.67,247.05 186.5,247.72 186.77,246.39 185.77,245.48 187.12,245.33"/>
<polygon points="191.62,244.1 192.18,245.33 193.53,245.48 192.53,246.39 192.8,247.72 191.62,247.05 190.45,247.72 190.72,246.39 189.72,245.48 191.07,245.33"/>
<polygon points="258.05,207.2 258.61,208.43 259.95,208.58 258.95,209.49 259.23,210.82 258.05,210.15 256.87,210.82 257.15,209.49 256.15,208.58 257.49,208.43"/>
<polygon points="241.33,223.3 241.88,224.53 243.23,224.68 242.23,225.59 242.5,226.92 241.33,226.25 240.15,226.92 240.42,225.59 239.42,224.68 240.77,224.53"/>
<polygon points="245.28,223.3 245.83,224.53 247.18,224.68 246.18,225.59 246.45,226.92 245.28,226.25 244.1,226.92 244.37,225.59 243.37,224.68 244.72,224.53"/>
<polygon points="304.45,36 305.01,37.23 306.35,37.38 305.35,38.29 305.63,39.62 304.45,38.95 303.27,39.62 303.55,38.29 302.55,37.38 303.89,37.23"/>
<polygon points="308.4,36 308.96,37.23 310.3,37.38 309.3,38.29 309.58,39.62 308.4,38.95 307.22,39.62 307.5,38.29 306.5,37.38 307.84,37.23"/>
<polygon points="312.35,36 312.91,37.23 314.25,37.38 313.25,38.29 313.53,39.62 312.35,38.95 311.17,39.62 311.45,38.29 310.45,37.38 311.79,37.23"/>
<polygon points="309.55,52.2 310.11,53.43 311.45,53.58 310.45,54.49 310.73,55.82 309.55,55.15 308.37,55.82 308.65,54.49 307.65,53.58 308.99,53.43"/>
<polygon points="313.5,52.2 314.06,53.43 315.4,53.58 314.4,54.49 314.68,55.82 313.5,55.15 312.32,55.82 312.6,54.49 311.6,53.58 312.94,53.43"/>
<polygon points="317.45,52.2 318.01,53.43 319.35,53.58 318.35,54.49 318.63,55.82 317.45,55.15 316.27,55.82 316.55,54.49 315.55,53.58 316.89,53.43"/>
<polygon points="307.55,66 308.11,67.23 309.45,67.38 308.45,68.29 308.73,69.62 307.55,68.95 306.37,69.62 306.65,68.29 305.65,67.38 306.99,67.23"/>
<polygon points="297.52,244 298.08,245.23 299.43,245.38 298.43,246.29 298.7,247.62 297.52,246.95 296.35,247.62 296.62,246.29 295.62,245.38 296.97,245.23"/>
<polygon points="301.48,244 302.03,245.23 303.38,245.38 302.38,246.29 302.65,247.62 301.48,246.95 300.3,247.62 300.57,246.29 299.57,245.38 300.92,245.23"/>
<polygon points="365.38,179.5 365.93,180.73 367.28,180.88 366.28,181.79 366.55,183.12 365.38,182.45 364.2,183.12 364.47,181.79 363.47,180.88 364.82,180.73"/>
<polygon points="369.33,179.5 369.88,180.73 371.23,180.88 370.23,181.79 370.5,183.12 369.33,182.45 368.15,183.12 368.42,181.79 367.42,180.88 368.77,180.73"/>
<polygon points="355.8,194.3 356.36,195.53 357.7,195.68 356.7,196.59 356.98,197.92 355.8,197.25 354.62,197.92 354.9,196.59 353.9,195.68 355.24,195.53"/>
<polygon points="359.75,194.3 360.31,195.53 361.65,195.68 360.65,196.59 360.93,197.92 359.75,197.25 358.57,197.92 358.85,196.59 357.85,195.68 359.19,195.53"/>
<polygon points="363.7,194.3 364.26,195.53 365.6,195.68 364.6,196.59 364.88,197.92 363.7,197.25 362.52,197.92 362.8,196.59 361.8,195.68 363.14,195.53"/>
<polygon points="368.1,208.7 368.66,209.93 370,210.08 369,210.99 369.28,212.32 368.1,211.65 366.92,212.32 367.2,210.99 366.2,210.08 367.54,209.93"/>
<polygon points="421.92,196.6 422.48,197.83 423.83,197.98 422.83,198.89 423.1,200.22 421.92,199.55 420.75,200.22 421.02,198.89 420.02,197.98 421.37,197.83"/>
<polygon points="425.88,196.6 426.43,197.83 427.78,197.98 426.78,198.89 427.05,200.22 425.88,199.55 424.7,200.22 424.97,198.89 423.97,197.98 425.32,197.83"/>
<polygon points="415.82,217.4 416.38,218.63 417.73,218.78 416.73,219.69 417,221.02 415.82,220.35 414.65,221.02 414.92,219.69 413.92,218.78 415.27,218.63"/>
<polygon points="419.78,217.4 420.33,218.63 421.68,218.78 420.68,219.69 420.95,221.02 419.78,220.35 418.6,221.02 418.87,219.69 417.87,218.78 419.22,218.63"/>
<polygon points="472.93,29.35 473.48,30.58 474.83,30.73 473.83,31.64 474.1,32.97 472.93,32.3 471.75,32.97 472.02,31.64 471.02,30.73 472.37,30.58"/>
<polygon points="476.88,29.35 477.43,30.58 478.78,30.73 477.78,31.64 478.05,32.97 476.88,32.3 475.7,32.97 475.97,31.64 474.97,30.73 476.32,30.58"/>
<polygon points="480.82,29.35 481.38,30.58 482.73,30.73 481.73,31.64 482,32.97 480.82,32.3 479.65,32.97 479.92,31.64 478.92,30.73 480.27,30.58"/>
<polygon points="466.45,49 467.01,50.23 468.35,50.38 467.35,51.29 467.63,52.62 466.45,51.95 465.27,52.62 465.55,51.29 464.55,50.38 465.89,50.23"/>
<polygon points="470.4,49 470.96,50.23 472.3,50.38 471.3,51.29 471.58,52.62 470.4,51.95 469.22,52.62 469.5,51.29 468.5,50.38 469.84,50.23"/>
<polygon points="456.75,65.5 457.31,66.73 458.65,66.88 457.65,67.79 457.93,69.12 456.75,68.45 455.57,69.12 455.85,67.79 454.85,66.88 456.19,66.73"/>
<polygon points="460.7,65.5 461.26,66.73 462.6,66.88 461.6,67.79 461.88,69.12 460.7,68.45 459.52,69.12 459.8,67.79 458.8,66.88 460.14,66.73"/>
<polygon points="464.65,65.5 465.21,66.73 466.55,66.88 465.55,67.79 465.83,69.12 464.65,68.45 463.47,69.12 463.75,67.79 462.75,66.88 464.09,66.73"/>
<polygon points="485.5,83.3 486.06,84.53 487.4,84.68 486.4,85.59 486.68,86.92 485.5,86.25 484.32,86.92 484.6,85.59 483.6,84.68 484.94,84.53"/>
<polygon points="479.55,99.6 480.11,100.83 481.45,100.98 480.45,101.89 480.73,103.22 479.55,102.55 478.37,103.22 478.65,101.89 477.65,100.98 478.99,100.83"/>
</g>
<g stroke="#000" fill="none">
<line x1="62.3" y1="388.9" x2="62.3" y2="624" stroke-width="1.4"/>
<line x1="58.2" y1="623.3" x2="507.5" y2="623.3" stroke-width="1.4"/>
<line x1="58.2" y1="623.3" x2="62.3" y2="623.3" stroke-width="1.1"/>
<line x1="58.2" y1="577.1" x2="62.3" y2="577.1" stroke-width="1.1"/>
<line x1="58.2" y1="530.9" x2="62.3" y2="530.9" stroke-width="1.1"/>
<line x1="58.2" y1="484.7" x2="62.3" y2="484.7" stroke-width="1.1"/>
<line x1="58.2" y1="438.5" x2="62.3" y2="438.5" stroke-width="1.1"/>
<line x1="58.2" y1="392.3" x2="62.3" y2="392.3" stroke-width="1.1"/>
<line x1="71.5" y1="623.3" x2="71.5" y2="627.6" stroke-width="1.1"/>
<line x1="85.19" y1="623.3" x2="85.19" y2="627.6" stroke-width="1.1"/>
<line x1="98.88" y1="623.3" x2="98.88" y2="627.6" stroke-width="1.1"/>
<line x1="112.57" y1="623.3" x2="112.57" y2="627.6" stroke-width="1.1"/>
<line x1="126.26" y1="623.3" x2="126.26" y2="627.6" stroke-width="1.1"/>
<line x1="139.95" y1="623.3" x2="139.95" y2="627.6" stroke-width="1.1"/>
<line x1="153.64" y1="623.3" x2="153.64" y2="627.6" stroke-width="1.1"/>
<line x1="167.33" y1="623.3" x2="167.33" y2="627.6" stroke-width="1.1"/>
<line x1="181.02" y1="623.3" x2="181.02" y2="627.6" stroke-width="1.1"/>
<line x1="194.71" y1="623.3" x2="194.71" y2="627.6" stroke-width="1.1"/>
<line x1="208.4" y1="623.3" x2="208.4" y2="627.6" stroke-width="1.1"/>
<line x1="222.09" y1="623.3" x2="222.09" y2="627.6" stroke-width="1.1"/>
<line x1="235.78" y1="623.3" x2="235.78" y2="627.6" stroke-width="1.1"/>
<line x1="249.47" y1="623.3" x2="249.47" y2="627.6" stroke-width="1.1"/>
<line x1="263.16" y1="623.3" x2="263.16" y2="627.6" stroke-width="1.1"/>
<line x1="276.85" y1="623.3" x2="276.85" y2="627.6" stroke-width="1.1"/>
<line x1="290.54" y1="623.3" x2="290.54" y2="627.6" stroke-width="1.1"/>
<line x1="304.23" y1="623.3" x2="304.23" y2="627.6" stroke-width="1.1"/>
<line x1="317.92" y1="623.3" x2="317.92" y2="627.6" stroke-width="1.1"/>
<line x1="331.61" y1="623.3" x2="331.61" y2="627.6" stroke-width="1.1"/>
<line x1="345.3" y1="623.3" x2="345.3" y2="627.6" stroke-width="1.1"/>
<line x1="358.99" y1="623.3" x2="358.99" y2="627.6" stroke-width="1.1"/>
<line x1="372.68" y1="623.3" x2="372.68" y2="627.6" stroke-width="1.1"/>
<line x1="386.37" y1="623.3" x2="386.37" y2="627.6" stroke-width="1.1"/>
<line x1="400.06" y1="623.3" x2="400.06" y2="627.6" stroke-width="1.1"/>
<line x1="413.75" y1="623.3" x2="413.75" y2="627.6" stroke-width="1.1"/>
<line x1="427.44" y1="623.3" x2="427.44" y2="627.6" stroke-width="1.1"/>
<line x1="441.13" y1="623.3" x2="441.13" y2="627.6" stroke-width="1.1"/>
<line x1="454.82" y1="623.3" x2="454.82" y2="627.6" stroke-width="1.1"/>
<line x1="468.51" y1="623.3" x2="468.51" y2="627.6" stroke-width="1.1"/>
<line x1="482.2" y1="623.3" x2="482.2" y2="627.6" stroke-width="1.1"/>
<line x1="495.89" y1="623.3" x2="495.89" y2="627.6" stroke-width="1.1"/>
<line x1="50" y1="659.4" x2="100" y2="659.4" stroke-width="1.1"/>
<line x1="105.8" y1="659.4" x2="156.5" y2="659.4" stroke-width="1.1"/>
<line x1="165.4" y1="659.4" x2="215.8" y2="659.4" stroke-width="1.1"/>
<line x1="219.5" y1="659.4" x2="270.5" y2="659.4" stroke-width="1.1"/>
<line x1="278.75" y1="659.4" x2="329" y2="659.4" stroke-width="1.1"/>
<line x1="333.75" y1="659.4" x2="383.75" y2="659.4" stroke-width="1.1"/>
<line x1="389.5" y1="659.4" x2="436.9" y2="659.4" stroke-width="1.1"/>
<line x1="441.2" y1="659.4" x2="492.1" y2="659.4" stroke-width="1.1"/>
</g>
<g font-size="11.4" text-anchor="end" fill="#000">
<text x="53.6" y="626.7">0</text>
<text x="53.6" y="580.5">10</text>
<text x="53.6" y="534.3">20</text>
<text x="53.6" y="488.1">30</text>
<text x="53.6" y="441.9">40</text>
<text x="53.6" y="395.7">50</text>
</g>
<text transform="translate(33.1 505.8) rotate(-90) scale(0.743 1)" font-size="12.4" text-anchor="middle" stroke="#000" stroke-width="0.4">Fold changes/ fold change average</text>
<text x="10.5" y="367.7" font-size="16.2" font-weight="bold" stroke="#000" stroke-width="0.4">B</text>
<g font-size="11.3" text-anchor="end" stroke="#000" stroke-width="0.22">
<text transform="translate(76.2 636.3) rotate(-45)">Cont</text>
<text transform="translate(89.89 636.3) rotate(-45)" textLength="23.5" lengthAdjust="spacingAndGlyphs">NoTx</text>
<text transform="translate(103.58 636.3) rotate(-45)">HU</text>
<text transform="translate(117.27 636.3) rotate(-45)">IFNα</text>
<text transform="translate(130.96 636.3) rotate(-45)">Cont</text>
<text transform="translate(144.65 636.3) rotate(-45)" textLength="23.5" lengthAdjust="spacingAndGlyphs">NoTx</text>
<text transform="translate(158.34 636.3) rotate(-45)">HU</text>
<text transform="translate(172.03 636.3) rotate(-45)">IFNα</text>
<text transform="translate(185.72 636.3) rotate(-45)">Cont</text>
<text transform="translate(199.41 636.3) rotate(-45)" textLength="23.5" lengthAdjust="spacingAndGlyphs">NoTx</text>
<text transform="translate(213.1 636.3) rotate(-45)">HU</text>
<text transform="translate(226.79 636.3) rotate(-45)">IFNα</text>
<text transform="translate(240.48 636.3) rotate(-45)">Cont</text>
<text transform="translate(254.17 636.3) rotate(-45)" textLength="23.5" lengthAdjust="spacingAndGlyphs">NoTx</text>
<text transform="translate(267.86 636.3) rotate(-45)">HU</text>
<text transform="translate(281.55 636.3) rotate(-45)">IFNα</text>
<text transform="translate(295.24 636.3) rotate(-45)">Cont</text>
<text transform="translate(308.93 636.3) rotate(-45)" textLength="23.5" lengthAdjust="spacingAndGlyphs">NoTx</text>
<text transform="translate(322.62 636.3) rotate(-45)">HU</text>
<text transform="translate(336.31 636.3) rotate(-45)">IFNα</text>
<text transform="translate(350 636.3) rotate(-45)">Cont</text>
<text transform="translate(363.69 636.3) rotate(-45)" textLength="23.5" lengthAdjust="spacingAndGlyphs">NoTx</text>
<text transform="translate(377.38 636.3) rotate(-45)">HU</text>
<text transform="translate(391.07 636.3) rotate(-45)">IFNα</text>
<text transform="translate(404.76 636.3) rotate(-45)">Cont</text>
<text transform="translate(418.45 636.3) rotate(-45)" textLength="23.5" lengthAdjust="spacingAndGlyphs">NoTx</text>
<text transform="translate(432.14 636.3) rotate(-45)">HU</text>
<text transform="translate(445.83 636.3) rotate(-45)">IFNα</text>
<text transform="translate(459.52 636.3) rotate(-45)">Cont</text>
<text transform="translate(473.21 636.3) rotate(-45)" textLength="23.5" lengthAdjust="spacingAndGlyphs">NoTx</text>
<text transform="translate(486.9 636.3) rotate(-45)">HU</text>
<text transform="translate(500.59 636.3) rotate(-45)">IFNα</text>
</g>
<g font-size="11.2" font-style="italic" text-anchor="middle">
<text x="75" y="673.4">F3</text>
<text x="131.15" y="673.4">SELP</text>
<text x="190.6" y="673.4">IRAK1</text>
<text x="245" y="673.4">IL1RAP</text>
<text x="303.88" y="673.4">VEGFA</text>
<text x="358.75" y="673.4">SLC2A1</text>
<text x="413.2" y="673.4">THBS1</text>
<text x="466.65" y="673.4">SERPINE</text>
</g>
<g stroke="#000" stroke-width="1.4">
<line x1="66.7" y1="620" x2="76.3" y2="620"/>
<line x1="80.39" y1="620.3" x2="89.99" y2="620.3"/>
<line x1="107.77" y1="614.2" x2="117.37" y2="614.2"/>
<line x1="135.15" y1="608.3" x2="144.75" y2="608.3"/>
<line x1="148.84" y1="608.9" x2="158.44" y2="608.9"/>
<line x1="162.53" y1="595.4" x2="172.13" y2="595.4"/>
<line x1="244.67" y1="617.1" x2="254.27" y2="617.1"/>
<line x1="258.36" y1="612.8" x2="267.96" y2="612.8"/>
<line x1="272.05" y1="610.8" x2="281.65" y2="610.8"/>
<line x1="299.43" y1="616.3" x2="309.03" y2="616.3"/>
<line x1="313.12" y1="596.6" x2="322.72" y2="596.6"/>
<line x1="326.81" y1="603" x2="336.41" y2="603"/>
<line x1="408.95" y1="616.4" x2="418.55" y2="616.4"/>
<line x1="422.64" y1="614.2" x2="432.24" y2="614.2"/>
<line x1="436.33" y1="617.4" x2="445.93" y2="617.4"/>
<line x1="463.71" y1="615.6" x2="473.31" y2="615.6"/>
<line x1="477.4" y1="619.4" x2="487" y2="619.4"/>
<line x1="491.09" y1="614.4" x2="500.69" y2="614.4"/>
</g>
<g fill="#23438a"><circle cx="69.39" cy="621.58" r="2.3"/><circle cx="71.65" cy="621.43" r="2.3"/><circle cx="73.62" cy="622.31" r="2.3"/><circle cx="69.52" cy="619.02" r="2.3"/><circle cx="71.32" cy="619.91" r="2.3"/><circle cx="73.5" cy="619.95" r="2.3"/><circle cx="69.91" cy="616.94" r="2.3"/><circle cx="71.78" cy="617.28" r="2.3"/><circle cx="73.47" cy="616.84" r="2.3"/><circle cx="69.85" cy="614.38" r="2.3"/><circle cx="72.53" cy="614.03" r="2.3"/></g>
<g fill="#65aa36"><circle cx="85.19" cy="558.4" r="2.3"/><circle cx="85.19" cy="569.9" r="2.3"/><circle cx="85.19" cy="582.7" r="2.3"/><circle cx="85.19" cy="603" r="2.3"/><circle cx="85.19" cy="613.1" r="2.3"/><circle cx="82.89" cy="621.53" r="2.3"/><circle cx="84.9" cy="622.18" r="2.3"/><circle cx="87.72" cy="621.46" r="2.3"/><circle cx="83.1" cy="620.67" r="2.3"/><circle cx="85.25" cy="619.91" r="2.3"/><circle cx="87.23" cy="621.06" r="2.3"/></g>
<g fill="#b3002a"><circle cx="98.8" cy="574.8" r="2.3"/><circle cx="96.4" cy="601" r="2.3"/><circle cx="101.4" cy="602" r="2.3"/><circle cx="98.8" cy="607.6" r="2.3"/><circle cx="96.4" cy="612.9" r="2.3"/><circle cx="101.4" cy="612.9" r="2.3"/><circle cx="96.4" cy="618.5" r="2.3"/><circle cx="96.4" cy="622.8" r="2.3"/><circle cx="101.4" cy="622" r="2.3"/></g>
<g fill="#4a1062"><circle cx="112.57" cy="552.9" r="2.3"/><circle cx="112.57" cy="560.6" r="2.3"/><circle cx="112.57" cy="571.8" r="2.3"/><circle cx="112.57" cy="579.6" r="2.3"/><circle cx="112.57" cy="604.3" r="2.3"/><circle cx="112.57" cy="613.5" r="2.3"/><circle cx="110.27" cy="622.07" r="2.3"/><circle cx="112.51" cy="622.34" r="2.3"/><circle cx="114.6" cy="622.35" r="2.3"/><circle cx="110.74" cy="619.13" r="2.3"/><circle cx="112.34" cy="618.99" r="2.3"/><circle cx="114.19" cy="619.04" r="2.3"/></g>
<g fill="#23438a"><circle cx="126.26" cy="608.5" r="2.3"/><circle cx="126.26" cy="612" r="2.3"/><circle cx="123.58" cy="622.56" r="2.3"/><circle cx="126.05" cy="622.47" r="2.3"/><circle cx="128.9" cy="621.96" r="2.3"/><circle cx="123.72" cy="619.9" r="2.3"/><circle cx="126.34" cy="619.67" r="2.3"/><circle cx="128.43" cy="619.95" r="2.3"/><circle cx="124.8" cy="617.62" r="2.3"/><circle cx="127.65" cy="617.03" r="2.3"/></g>
<g fill="#65aa36"><circle cx="141" cy="513.4" r="2.3"/><circle cx="139" cy="517.1" r="2.3"/><circle cx="139.95" cy="538.9" r="2.3"/><circle cx="139.95" cy="582.3" r="2.3"/><circle cx="139.95" cy="590.3" r="2.3"/><circle cx="139.95" cy="601" r="2.3"/><circle cx="139.95" cy="608.3" r="2.3"/><circle cx="139.95" cy="617.5" r="2.3"/><circle cx="137.58" cy="622.11" r="2.3"/><circle cx="140.17" cy="621.65" r="2.3"/><circle cx="142.52" cy="621.96" r="2.3"/><circle cx="138.01" cy="620.49" r="2.3"/><circle cx="139.84" cy="620.98" r="2.3"/><circle cx="142.35" cy="621.06" r="2.3"/></g>
<g fill="#b3002a"><circle cx="153.64" cy="526.8" r="2.3"/><circle cx="153.64" cy="561.7" r="2.3"/><circle cx="153.64" cy="571.8" r="2.3"/><circle cx="153.64" cy="580" r="2.3"/><circle cx="153.64" cy="582.7" r="2.3"/><circle cx="153.64" cy="592.5" r="2.3"/><circle cx="153.64" cy="595.1" r="2.3"/><circle cx="153.64" cy="601" r="2.3"/><circle cx="151.45" cy="621.91" r="2.3"/><circle cx="153.74" cy="622.13" r="2.3"/><circle cx="156.19" cy="621.82" r="2.3"/><circle cx="151.89" cy="619.3" r="2.3"/><circle cx="153.59" cy="619" r="2.3"/><circle cx="155.94" cy="619.1" r="2.3"/><circle cx="153.34" cy="617.27" r="2.3"/><circle cx="153.98" cy="617.58" r="2.3"/></g>
<g fill="#4a1062"><circle cx="167.33" cy="517.1" r="2.3"/><circle cx="166" cy="555.1" r="2.3"/><circle cx="169.5" cy="556.8" r="2.3"/><circle cx="166" cy="582.7" r="2.3"/><circle cx="168.5" cy="586" r="2.3"/><circle cx="167.33" cy="595.4" r="2.3"/><circle cx="167.33" cy="608.9" r="2.3"/><circle cx="167.33" cy="613.5" r="2.3"/><circle cx="165.31" cy="622.52" r="2.3"/><circle cx="167.36" cy="621.9" r="2.3"/><circle cx="169.12" cy="622.48" r="2.3"/><circle cx="166.54" cy="620.48" r="2.3"/><circle cx="168.24" cy="620.39" r="2.3"/></g>
<g fill="#23438a"><circle cx="181.02" cy="610.8" r="2.3"/><circle cx="181.02" cy="614" r="2.3"/><circle cx="179.27" cy="622.5" r="2.3"/><circle cx="180.87" cy="622.52" r="2.3"/><circle cx="183.34" cy="621.52" r="2.3"/><circle cx="179.58" cy="619.25" r="2.3"/><circle cx="182.61" cy="619.67" r="2.3"/><circle cx="180.1" cy="617.29" r="2.3"/><circle cx="181.78" cy="616.92" r="2.3"/></g>
<g fill="#65aa36"><circle cx="192.5" cy="622.29" r="2.3"/><circle cx="194.88" cy="621.74" r="2.3"/><circle cx="197.09" cy="621.76" r="2.3"/><circle cx="193.05" cy="619.99" r="2.3"/><circle cx="196.55" cy="620.82" r="2.3"/></g>
<g fill="#b3002a"><circle cx="208.4" cy="613.1" r="2.3"/><circle cx="206.44" cy="622.57" r="2.3"/><circle cx="208.74" cy="622.45" r="2.3"/><circle cx="210.59" cy="621.59" r="2.3"/><circle cx="206.67" cy="619.46" r="2.3"/><circle cx="209.98" cy="619.55" r="2.3"/><circle cx="208.32" cy="617.78" r="2.3"/></g>
<g fill="#4a1062"><circle cx="220.34" cy="621.96" r="2.3"/><circle cx="223.42" cy="622.37" r="2.3"/><circle cx="220.6" cy="619.69" r="2.3"/><circle cx="223.23" cy="619.41" r="2.3"/></g>
<g fill="#23438a"><circle cx="233.67" cy="622.04" r="2.3"/><circle cx="235.81" cy="621.6" r="2.3"/><circle cx="237.94" cy="621.64" r="2.3"/><circle cx="234.12" cy="619.46" r="2.3"/><circle cx="236.12" cy="619.84" r="2.3"/><circle cx="237.29" cy="618.94" r="2.3"/><circle cx="234.46" cy="616.42" r="2.3"/><circle cx="236.93" cy="616.81" r="2.3"/><circle cx="235.51" cy="615.04" r="2.3"/></g>
<g fill="#65aa36"><circle cx="249.47" cy="603.6" r="2.3"/><circle cx="249.47" cy="607.9" r="2.3"/><circle cx="249.47" cy="610.2" r="2.3"/><circle cx="249.47" cy="613" r="2.3"/><circle cx="247.34" cy="621.77" r="2.3"/><circle cx="249.29" cy="622.36" r="2.3"/><circle cx="251.38" cy="621.71" r="2.3"/><circle cx="247.55" cy="619.42" r="2.3"/><circle cx="250.98" cy="619.71" r="2.3"/><circle cx="248.91" cy="617.37" r="2.3"/><circle cx="250.5" cy="616.56" r="2.3"/></g>
<g fill="#b3002a"><circle cx="263.3" cy="599" r="2.3"/><circle cx="264" cy="602.5" r="2.3"/><circle cx="262" cy="606.5" r="2.3"/><circle cx="264.5" cy="609" r="2.3"/><circle cx="266" cy="612.5" r="2.3"/><circle cx="263.3" cy="620" r="2.3"/><circle cx="262" cy="622" r="2.3"/></g>
<g fill="#4a1062"><circle cx="276.85" cy="512.8" r="2.3"/><circle cx="276.85" cy="533.6" r="2.3"/><circle cx="276.85" cy="567.5" r="2.3"/><circle cx="276.85" cy="592.9" r="2.3"/><circle cx="276.85" cy="603.6" r="2.3"/><circle cx="276.85" cy="609.8" r="2.3"/><circle cx="275.5" cy="616.5" r="2.3"/><circle cx="278.5" cy="617" r="2.3"/><circle cx="275.18" cy="621.85" r="2.3"/><circle cx="276.86" cy="621.9" r="2.3"/><circle cx="278.66" cy="621.24" r="2.3"/><circle cx="275.02" cy="618.92" r="2.3"/><circle cx="278.35" cy="619.98" r="2.3"/></g>
<g fill="#23438a"><circle cx="290.54" cy="602.4" r="2.3"/><circle cx="290.54" cy="613.6" r="2.3"/><circle cx="288.72" cy="621.96" r="2.3"/><circle cx="290.66" cy="622.51" r="2.3"/><circle cx="292.42" cy="622.12" r="2.3"/><circle cx="288.63" cy="619.52" r="2.3"/><circle cx="290.31" cy="619.12" r="2.3"/><circle cx="292.26" cy="620.09" r="2.3"/><circle cx="289.97" cy="616.89" r="2.3"/><circle cx="291.24" cy="616.95" r="2.3"/></g>
<g fill="#65aa36"><circle cx="304.23" cy="577" r="2.3"/><circle cx="304.23" cy="588.4" r="2.3"/><circle cx="304.23" cy="600.6" r="2.3"/><circle cx="304.23" cy="609.4" r="2.3"/><circle cx="304.23" cy="613" r="2.3"/><circle cx="302.34" cy="621.94" r="2.3"/><circle cx="304.55" cy="621.59" r="2.3"/><circle cx="306.46" cy="622.03" r="2.3"/><circle cx="302.07" cy="619.92" r="2.3"/><circle cx="304.46" cy="620.02" r="2.3"/><circle cx="306.25" cy="618.94" r="2.3"/><circle cx="302.68" cy="617.06" r="2.3"/><circle cx="305.84" cy="616.74" r="2.3"/></g>
<g fill="#b3002a"><circle cx="317.92" cy="413.7" r="2.3"/><circle cx="317.92" cy="445.3" r="2.3"/><circle cx="317.92" cy="534.8" r="2.3"/><circle cx="317.92" cy="570.9" r="2.3"/><circle cx="317.92" cy="576.1" r="2.3"/><circle cx="320.5" cy="586.6" r="2.3"/><circle cx="317.5" cy="589.6" r="2.3"/><circle cx="317.92" cy="604.1" r="2.3"/><circle cx="320.5" cy="612.3" r="2.3"/><circle cx="316.5" cy="614.6" r="2.3"/><circle cx="317.92" cy="618.4" r="2.3"/><circle cx="315.47" cy="622.49" r="2.3"/><circle cx="317.64" cy="622.2" r="2.3"/><circle cx="320.61" cy="622.02" r="2.3"/><circle cx="315.6" cy="621.05" r="2.3"/><circle cx="318.02" cy="620.13" r="2.3"/><circle cx="320.23" cy="620.12" r="2.3"/></g>
<g fill="#4a1062"><circle cx="333.5" cy="527" r="2.3"/><circle cx="331" cy="530.1" r="2.3"/><circle cx="331.61" cy="559.9" r="2.3"/><circle cx="331.61" cy="578.6" r="2.3"/><circle cx="331.61" cy="591.9" r="2.3"/><circle cx="330.5" cy="600.1" r="2.3"/><circle cx="331.61" cy="603" r="2.3"/><circle cx="331.61" cy="610" r="2.3"/><circle cx="331" cy="615" r="2.3"/><circle cx="333.5" cy="617" r="2.3"/><circle cx="329.43" cy="622.39" r="2.3"/><circle cx="331.48" cy="621.73" r="2.3"/><circle cx="333.4" cy="622.53" r="2.3"/><circle cx="329.88" cy="619.87" r="2.3"/><circle cx="333.36" cy="619.56" r="2.3"/></g>
<g fill="#23438a"><circle cx="342.78" cy="622.58" r="2.3"/><circle cx="345.01" cy="621.68" r="2.3"/><circle cx="347.86" cy="621.5" r="2.3"/><circle cx="343.22" cy="619.79" r="2.3"/><circle cx="345.54" cy="619.66" r="2.3"/><circle cx="347.18" cy="618.91" r="2.3"/><circle cx="344.05" cy="617.55" r="2.3"/><circle cx="346.7" cy="616.72" r="2.3"/><circle cx="345.29" cy="615.31" r="2.3"/></g>
<g fill="#65aa36"><circle cx="358.99" cy="611.5" r="2.3"/><circle cx="358.99" cy="614.5" r="2.3"/><circle cx="356.92" cy="621.46" r="2.3"/><circle cx="358.81" cy="622.55" r="2.3"/><circle cx="361.34" cy="622.49" r="2.3"/><circle cx="357.16" cy="620.09" r="2.3"/><circle cx="360.47" cy="619.68" r="2.3"/><circle cx="358.78" cy="616.64" r="2.3"/></g>
<g fill="#b3002a"><circle cx="372.68" cy="606.7" r="2.3"/><circle cx="372.68" cy="609.8" r="2.3"/><circle cx="371.01" cy="621.61" r="2.3"/><circle cx="372.46" cy="622.39" r="2.3"/><circle cx="374.27" cy="621.46" r="2.3"/><circle cx="371.15" cy="619.54" r="2.3"/><circle cx="372.6" cy="619.03" r="2.3"/><circle cx="374.61" cy="620.09" r="2.3"/><circle cx="371.93" cy="617.06" r="2.3"/><circle cx="373.53" cy="617.05" r="2.3"/></g>
<g fill="#4a1062"><circle cx="386.37" cy="611.3" r="2.3"/><circle cx="386.37" cy="614" r="2.3"/><circle cx="384.42" cy="622.5" r="2.3"/><circle cx="386.07" cy="621.63" r="2.3"/><circle cx="387.91" cy="622.6" r="2.3"/><circle cx="385.11" cy="619.2" r="2.3"/><circle cx="388.07" cy="620.04" r="2.3"/><circle cx="385.76" cy="617.24" r="2.3"/><circle cx="387.1" cy="616.43" r="2.3"/></g>
<g fill="#23438a"><circle cx="400.06" cy="607.2" r="2.3"/><circle cx="400.06" cy="610.5" r="2.3"/><circle cx="400.06" cy="614" r="2.3"/><circle cx="397.6" cy="622.3" r="2.3"/><circle cx="400.26" cy="622.08" r="2.3"/><circle cx="402.44" cy="622.05" r="2.3"/><circle cx="397.92" cy="619.54" r="2.3"/><circle cx="400.29" cy="619.14" r="2.3"/><circle cx="402.09" cy="620.02" r="2.3"/><circle cx="399.2" cy="616.62" r="2.3"/><circle cx="400.84" cy="617.41" r="2.3"/></g>
<g fill="#65aa36"><circle cx="413.75" cy="557.5" r="2.3"/><circle cx="413.75" cy="581.7" r="2.3"/><circle cx="414.5" cy="589" r="2.3"/><circle cx="413" cy="592.3" r="2.3"/><circle cx="413.75" cy="601.1" r="2.3"/><circle cx="413.75" cy="605.7" r="2.3"/><circle cx="413.75" cy="614.5" r="2.3"/><circle cx="411.17" cy="621.72" r="2.3"/><circle cx="413.54" cy="621.46" r="2.3"/><circle cx="415.77" cy="621.89" r="2.3"/><circle cx="412.41" cy="619.04" r="2.3"/><circle cx="415.69" cy="619.94" r="2.3"/><circle cx="413.36" cy="617.59" r="2.3"/><circle cx="414.22" cy="617.03" r="2.3"/></g>
<g fill="#b3002a"><circle cx="427.44" cy="572.2" r="2.3"/><circle cx="428" cy="576.3" r="2.3"/><circle cx="427" cy="578.6" r="2.3"/><circle cx="427.44" cy="589" r="2.3"/><circle cx="427.44" cy="602.1" r="2.3"/><circle cx="427.44" cy="610.8" r="2.3"/><circle cx="425.53" cy="621.51" r="2.3"/><circle cx="427.47" cy="621.93" r="2.3"/><circle cx="429.79" cy="622.12" r="2.3"/><circle cx="425.47" cy="619.51" r="2.3"/><circle cx="427.35" cy="619.28" r="2.3"/><circle cx="429.39" cy="619.62" r="2.3"/><circle cx="426.68" cy="617.52" r="2.3"/><circle cx="428.29" cy="617.4" r="2.3"/><circle cx="426.69" cy="615.07" r="2.3"/><circle cx="428.2" cy="614.05" r="2.3"/></g>
<g fill="#4a1062"><circle cx="441.13" cy="594.5" r="2.3"/><circle cx="441.13" cy="606.2" r="2.3"/><circle cx="441.13" cy="614" r="2.3"/><circle cx="439.03" cy="622.28" r="2.3"/><circle cx="441.02" cy="622.17" r="2.3"/><circle cx="443.38" cy="622.56" r="2.3"/><circle cx="439.25" cy="619.47" r="2.3"/><circle cx="441.15" cy="619.95" r="2.3"/><circle cx="442.64" cy="619.53" r="2.3"/><circle cx="439.99" cy="617.14" r="2.3"/><circle cx="442.53" cy="616.91" r="2.3"/></g>
<g fill="#23438a"><circle cx="454.82" cy="603.1" r="2.3"/><circle cx="454.82" cy="605.5" r="2.3"/><circle cx="454.82" cy="611.9" r="2.3"/><circle cx="452.96" cy="622.33" r="2.3"/><circle cx="454.51" cy="622.43" r="2.3"/><circle cx="457" cy="622.58" r="2.3"/><circle cx="452.63" cy="619.16" r="2.3"/><circle cx="454.85" cy="619.96" r="2.3"/><circle cx="456.97" cy="619.94" r="2.3"/><circle cx="453.87" cy="616.83" r="2.3"/><circle cx="456.06" cy="617.01" r="2.3"/></g>
<g fill="#65aa36"><circle cx="468.51" cy="543.5" r="2.3"/><circle cx="468.51" cy="564.9" r="2.3"/><circle cx="468.51" cy="571" r="2.3"/><circle cx="468.51" cy="575.7" r="2.3"/><circle cx="468.51" cy="589.4" r="2.3"/><circle cx="468.51" cy="606" r="2.3"/><circle cx="468.51" cy="612.8" r="2.3"/><circle cx="466.34" cy="621.85" r="2.3"/><circle cx="468.62" cy="622.45" r="2.3"/><circle cx="470.55" cy="621.58" r="2.3"/><circle cx="466.46" cy="619.35" r="2.3"/><circle cx="468.59" cy="619.07" r="2.3"/><circle cx="470.65" cy="619.28" r="2.3"/><circle cx="467.26" cy="616.44" r="2.3"/><circle cx="469.58" cy="617.51" r="2.3"/></g>
<g fill="#b3002a"><circle cx="482.2" cy="606.9" r="2.3"/><circle cx="481.5" cy="610" r="2.3"/><circle cx="484" cy="611" r="2.3"/><circle cx="482.2" cy="616.3" r="2.3"/><circle cx="480.12" cy="622.28" r="2.3"/><circle cx="482.43" cy="622.41" r="2.3"/><circle cx="484.01" cy="621.93" r="2.3"/><circle cx="480.48" cy="619.04" r="2.3"/><circle cx="482.47" cy="619.35" r="2.3"/><circle cx="484.07" cy="619.97" r="2.3"/></g>
<g fill="#4a1062"><circle cx="495.89" cy="589.4" r="2.3"/><circle cx="495.89" cy="602.5" r="2.3"/><circle cx="496" cy="605" r="2.3"/><circle cx="495.89" cy="610.6" r="2.3"/><circle cx="495.89" cy="616" r="2.3"/><circle cx="493.64" cy="621.63" r="2.3"/><circle cx="496.12" cy="622.12" r="2.3"/><circle cx="498.28" cy="621.43" r="2.3"/><circle cx="493.94" cy="618.91" r="2.3"/><circle cx="496.12" cy="619.12" r="2.3"/><circle cx="497.9" cy="619.37" r="2.3"/><circle cx="494.8" cy="617.42" r="2.3"/><circle cx="496.9" cy="617.69" r="2.3"/></g>
<g stroke="#000" stroke-width="1.3" fill="none">
<path d="M71.2 500.8V509.8M71.2 505.3H113.4M113.4 500.8V509.8"/>
<path d="M70.2 522.8V531.8M70.2 527.3H101.2M101.2 522.8V531.8"/>
<path d="M70.1 544V553M70.1 548.5H86.3M86.3 544V553"/>
<path d="M124 454.3V463.3M124 458.8H169.7M169.7 454.3V463.3"/>
<path d="M123.6 478.1V487.1M123.6 482.6H154.9M154.9 478.1V487.1"/>
<path d="M123.6 496.6V505.6M123.6 501.1H142M142 496.6V505.6"/>
<path d="M180.7 579.4V588.4M180.7 583.9H223.6M223.6 579.4V588.4"/>
<path d="M180.7 597V606M180.7 601.5H193M193 597V606"/>
<path d="M234 496.7V505.7M234 501.2H276.9M276.9 496.7V505.7"/>
<path d="M233.3 566.5V575.5M233.3 571H263.3M263.3 566.5V575.5"/>
<path d="M233.3 587.2V596.2M233.3 591.7H250.7M250.7 587.2V596.2"/>
<path d="M291 376V385M291 380.5H329.5M329.5 376V385"/>
<path d="M292 396.8V405.8M292 401.3H318.7M318.7 396.8V405.8"/>
<path d="M290.7 564.6V573.6M290.7 569.1H304.2M304.2 564.6V573.6"/>
<path d="M399.5 527.2V536.2M399.5 531.7H429.2M429.2 527.2V536.2"/>
<path d="M400.1 544V553M400.1 548.5H413.1M413.1 544V553"/>
<path d="M467 511V520M467 515.5H482.1M482.1 511V520"/>
<path d="M452.1 528.4V537.4M452.1 532.9H468M468 528.4V537.4"/>
</g>
<g fill="#000">
<polygon points="90.33,497.9 90.88,499.13 92.23,499.28 91.23,500.19 91.5,501.52 90.33,500.85 89.15,501.52 89.42,500.19 88.42,499.28 89.77,499.13"/>
<polygon points="94.28,497.9 94.83,499.13 96.18,499.28 95.18,500.19 95.45,501.52 94.28,500.85 93.1,501.52 93.37,500.19 92.37,499.28 93.72,499.13"/>
<polygon points="83.73,519.9 84.28,521.13 85.63,521.28 84.63,522.19 84.9,523.52 83.73,522.85 82.55,523.52 82.82,522.19 81.82,521.28 83.17,521.13"/>
<polygon points="87.67,519.9 88.23,521.13 89.58,521.28 88.58,522.19 88.85,523.52 87.67,522.85 86.5,523.52 86.77,522.19 85.77,521.28 87.12,521.13"/>
<polygon points="78.2,541.1 78.76,542.33 80.1,542.48 79.1,543.39 79.38,544.72 78.2,544.05 77.02,544.72 77.3,543.39 76.3,542.48 77.64,542.33"/>
<polygon points="142.9,451.4 143.46,452.63 144.8,452.78 143.8,453.69 144.08,455.02 142.9,454.35 141.72,455.02 142,453.69 141,452.78 142.34,452.63"/>
<polygon points="146.85,451.4 147.41,452.63 148.75,452.78 147.75,453.69 148.03,455.02 146.85,454.35 145.67,455.02 145.95,453.69 144.95,452.78 146.29,452.63"/>
<polygon points="150.8,451.4 151.36,452.63 152.7,452.78 151.7,453.69 151.98,455.02 150.8,454.35 149.62,455.02 149.9,453.69 148.9,452.78 150.24,452.63"/>
<polygon points="137.28,475.2 137.83,476.43 139.18,476.58 138.18,477.49 138.45,478.82 137.28,478.15 136.1,478.82 136.37,477.49 135.37,476.58 136.72,476.43"/>
<polygon points="141.22,475.2 141.78,476.43 143.13,476.58 142.13,477.49 142.4,478.82 141.22,478.15 140.05,478.82 140.32,477.49 139.32,476.58 140.67,476.43"/>
<polygon points="130.83,493.7 131.38,494.93 132.73,495.08 131.73,495.99 132,497.32 130.83,496.65 129.65,497.32 129.92,495.99 128.92,495.08 130.27,494.93"/>
<polygon points="134.78,493.7 135.33,494.93 136.68,495.08 135.68,495.99 135.95,497.32 134.78,496.65 133.6,497.32 133.87,495.99 132.87,495.08 134.22,494.93"/>
<polygon points="200.17,576.5 200.73,577.73 202.08,577.88 201.08,578.79 201.35,580.12 200.17,579.45 199,580.12 199.27,578.79 198.27,577.88 199.62,577.73"/>
<polygon points="204.12,576.5 204.68,577.73 206.03,577.88 205.03,578.79 205.3,580.12 204.12,579.45 202.95,580.12 203.22,578.79 202.22,577.88 203.57,577.73"/>
<polygon points="184.88,594.1 185.43,595.33 186.78,595.48 185.78,596.39 186.05,597.72 184.88,597.05 183.7,597.72 183.97,596.39 182.97,595.48 184.32,595.33"/>
<polygon points="188.82,594.1 189.38,595.33 190.73,595.48 189.73,596.39 190,597.72 188.82,597.05 187.65,597.72 187.92,596.39 186.92,595.48 188.27,595.33"/>
<polygon points="253.47,493.8 254.03,495.03 255.38,495.18 254.38,496.09 254.65,497.42 253.47,496.75 252.3,497.42 252.57,496.09 251.57,495.18 252.92,495.03"/>
<polygon points="257.43,493.8 257.98,495.03 259.33,495.18 258.33,496.09 258.6,497.42 257.43,496.75 256.25,497.42 256.52,496.09 255.52,495.18 256.87,495.03"/>
<polygon points="244.35,563.6 244.91,564.83 246.25,564.98 245.25,565.89 245.53,567.22 244.35,566.55 243.17,567.22 243.45,565.89 242.45,564.98 243.79,564.83"/>
<polygon points="248.3,563.6 248.86,564.83 250.2,564.98 249.2,565.89 249.48,567.22 248.3,566.55 247.12,567.22 247.4,565.89 246.4,564.98 247.74,564.83"/>
<polygon points="252.25,563.6 252.81,564.83 254.15,564.98 253.15,565.89 253.43,567.22 252.25,566.55 251.07,567.22 251.35,565.89 250.35,564.98 251.69,564.83"/>
<polygon points="240.03,584.3 240.58,585.53 241.93,585.68 240.93,586.59 241.2,587.92 240.03,587.25 238.85,587.92 239.12,586.59 238.12,585.68 239.47,585.53"/>
<polygon points="243.97,584.3 244.53,585.53 245.88,585.68 244.88,586.59 245.15,587.92 243.97,587.25 242.8,587.92 243.07,586.59 242.07,585.68 243.42,585.53"/>
<polygon points="306.3,373.1 306.86,374.33 308.2,374.48 307.2,375.39 307.48,376.72 306.3,376.05 305.12,376.72 305.4,375.39 304.4,374.48 305.74,374.33"/>
<polygon points="310.25,373.1 310.81,374.33 312.15,374.48 311.15,375.39 311.43,376.72 310.25,376.05 309.07,376.72 309.35,375.39 308.35,374.48 309.69,374.33"/>
<polygon points="314.2,373.1 314.76,374.33 316.1,374.48 315.1,375.39 315.38,376.72 314.2,376.05 313.02,376.72 313.3,375.39 312.3,374.48 313.64,374.33"/>
<polygon points="303.38,393.9 303.93,395.13 305.28,395.28 304.28,396.19 304.55,397.52 303.38,396.85 302.2,397.52 302.47,396.19 301.47,395.28 302.82,395.13"/>
<polygon points="307.33,393.9 307.88,395.13 309.23,395.28 308.23,396.19 308.5,397.52 307.33,396.85 306.15,397.52 306.42,396.19 305.42,395.28 306.77,395.13"/>
<polygon points="297.45,561.7 298.01,562.93 299.35,563.08 298.35,563.99 298.63,565.32 297.45,564.65 296.27,565.32 296.55,563.99 295.55,563.08 296.89,562.93"/>
<polygon points="412.38,524.3 412.93,525.53 414.28,525.68 413.28,526.59 413.55,527.92 412.38,527.25 411.2,527.92 411.47,526.59 410.47,525.68 411.82,525.53"/>
<polygon points="416.33,524.3 416.88,525.53 418.23,525.68 417.23,526.59 417.5,527.92 416.33,527.25 415.15,527.92 415.42,526.59 414.42,525.68 415.77,525.53"/>
<polygon points="404.62,541.1 405.18,542.33 406.53,542.48 405.53,543.39 405.8,544.72 404.62,544.05 403.45,544.72 403.72,543.39 402.72,542.48 404.07,542.33"/>
<polygon points="408.58,541.1 409.13,542.33 410.48,542.48 409.48,543.39 409.75,544.72 408.58,544.05 407.4,544.72 407.67,543.39 406.67,542.48 408.02,542.33"/>
<polygon points="474.55,508.1 475.11,509.33 476.45,509.48 475.45,510.39 475.73,511.72 474.55,511.05 473.37,511.72 473.65,510.39 472.65,509.48 473.99,509.33"/>
<polygon points="458.07,525.5 458.63,526.73 459.98,526.88 458.98,527.79 459.25,529.12 458.07,528.45 456.9,529.12 457.17,527.79 456.17,526.88 457.52,526.73"/>
<polygon points="462.03,525.5 462.58,526.73 463.93,526.88 462.93,527.79 463.2,529.12 462.03,528.45 460.85,529.12 461.12,527.79 460.12,526.88 461.47,526.73"/>
</g>
<rect x="0.75" y="0.75" width="518.5" height="684.5" fill="none" stroke="#000" stroke-width="1.5"/>
</svg></body></html>
